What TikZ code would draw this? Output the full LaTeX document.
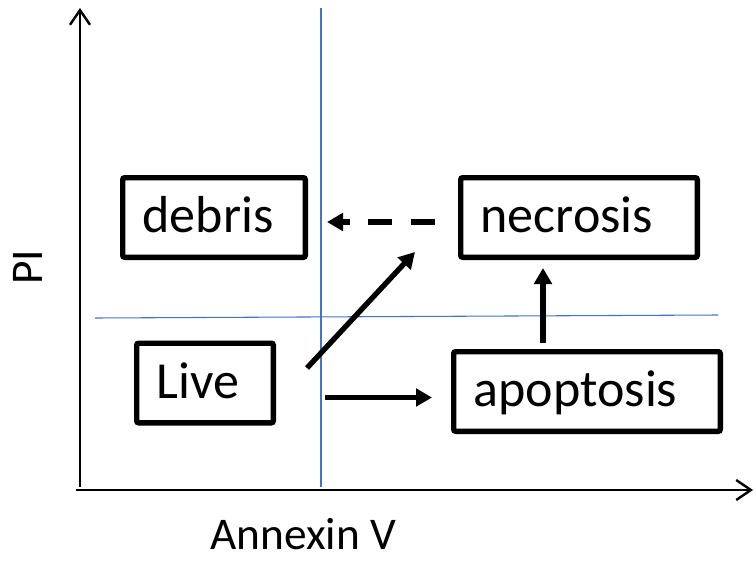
\documentclass[tikz,border=0pt]{standalone}
\usepackage{fontspec}
\setmainfont{Carlito}
\usetikzlibrary{arrows.meta}
\definecolor{gateblue}{RGB}{68,114,196}

\begin{document}
\begin{tikzpicture}[x=0.75pt, y=-0.75pt,
    cellbox/.style={draw, line width=4pt, rounded corners=1.5pt, minimum height=59.75pt,
        inner xsep=15pt, align=left, text height=30pt, text depth=6.8pt,
        font=\fontsize{39}{45}\selectfont},
    axis/.style={line width=1.8pt, -{Straight Barb[length=11pt, width=15pt]}},
    gate/.style={gateblue, line width=0.8pt},
    flow/.style={line width=4pt, -{Triangle[length=12pt, width=13pt]}},
    axislabel/.style={inner sep=0pt, font=\fontsize{34}{40}\selectfont}]
    \useasboundingbox (0,0) rectangle (756,560);

    \coordinate (O) at (80,490);
    \coordinate (Ytop) at (80,8);
    \coordinate (Xend) at (753,490);
    \coordinate (G1) at (321,8);
    \coordinate (G2) at (321,487);
    \coordinate (G3) at (95,318);
    \coordinate (G4) at (718,315);

    \draw[gate] (G1) -- (G2);
    \draw[gate] (G3) -- (G4);
    \draw[axis] (80,487) -- (Ytop);
    \draw[axis] (76,490) -- (Xend);

    \node[cellbox, text width=107pt] (debris) at (214,217.5) {debris};
    \node[cellbox, text width=147.5pt] (necrosis) at (579,217.5) {necrosis};
    \node[cellbox, text width=72.5pt] (live) at (205,383) {Live};
    \node[cellbox, text width=170pt] (apoptosis) at (587,391.5) {apoptosis};

    \coordinate (A1) at (435,222);
    \coordinate (A2) at (327,222);
    \coordinate (B1) at (307,368);
    \coordinate (B2) at (415,252);
    \coordinate (C1) at (325,397.5);
    \coordinate (C2) at (432,397.5);
    \coordinate (D1) at (543,343);
    \coordinate (D2) at (543,268);

    \draw[flow, dash pattern=on 18pt off 14pt] (A1) -- (A2);
    \draw[flow] (B1) -- (B2);
    \draw[flow] (C1) -- (C2);
    \draw[flow] (D1) -- (D2);

    \node[axislabel, anchor=base west] (xlabel) at (210,549) {Annexin V};
    \node[axislabel, rotate=90] (ylabel) at (28,267.5) {PI};
\end{tikzpicture}
\end{document}
